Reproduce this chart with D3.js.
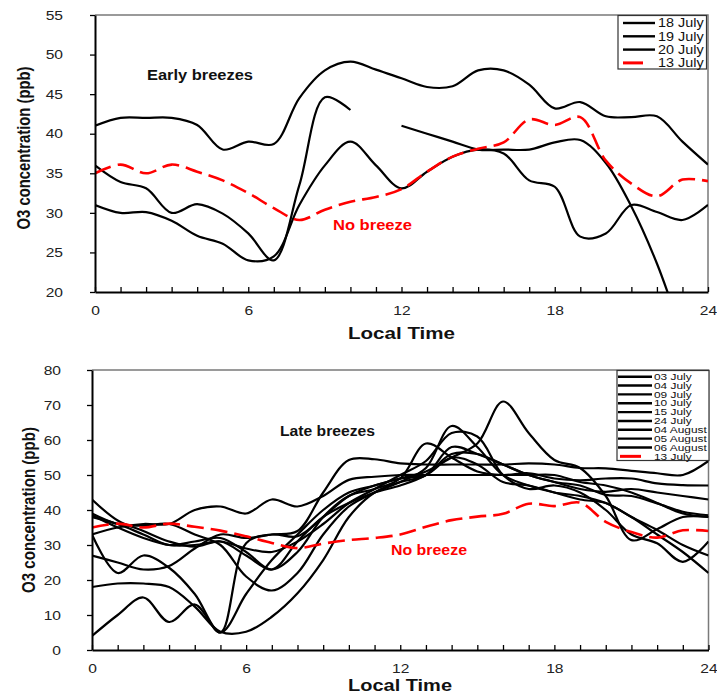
<!DOCTYPE html>
<html>
<head>
<meta charset="utf-8">
<script src="https://cdn.jsdelivr.net/npm/d3@7"></script>
<style>
  body { margin: 0; background: #fff; }
  svg { display: block; font-family: "Liberation Sans", Arial, sans-serif; }
</style>
</head>
<body>
<svg id="chart" width="717" height="696"></svg>
<script>
// ---- data: hourly O3 (ppb), local time 0..24 ----
const hours = d3.range(0, 25);
const xTickLabels = [0, 6, 12, 18, 24];
const topYTicks = [20, 25, 30, 35, 40, 45, 50, 55];
const bottomYTicks = [0, 10, 20, 30, 40, 50, 60, 70, 80];

// reference day without sea breeze
const jul13 = [35, 36.1, 35, 36.1, 35.2, 34.1, 32.5, 30.6, 29.1, 30.4, 31.4, 32, 33, 35.2, 37.1, 38.1, 38.9, 41.8, 41.1, 42.1, 36.6, 33.7, 32.1, 34.2, 34];

// early breezes
const jul18 = [41, 42, 42, 42, 41.1, 38, 39, 38.7, 44.5, 48, 49.1, 48.1, 47, 45.9, 46, 48, 48, 46.2, 43.2, 44, 42.2, 42.1, 42.2, 39, 36.1];
const jul19 = [36, 33.9, 33.1, 30, 31.1, 29.9, 27.4, 24, 33.5, 44.6, 43, null, 41, 40, 39, 38, 38, 38, 38.9, 39.2, 36.3, 30.8, 23.6, 14.6, 5.6];
const jul20 = [31, 30, 30.1, 29, 27.1, 26.1, 24, 24.5, 31, 36, 39, 36, 33.1, 35.2, 37.1, 38, 37.5, 34.1, 33.3, 27, 27.4, 31, 30.1, 29.1, 31];

// late breezes
const jul03 = [33, 35, 36, 36, 40, 41, 39, 43, 41, 44, 48.6, 49.5, 50, 50, 50, 50, 50, 50, 50, 48, 47, 45, 42, 39, 38];
const jul04 = [27, 25, 23, 24, 29, 33, 32, 33, 34, 45, 54.3, 54.5, 53.3, 53, 53, 53, 53, 53.3, 53, 52, 51.9, 51.2, 50.5, 50, 54];
const jul09 = [43, 37, 34, 31, 29.5, 31, 27, 23, 28, 38, 44, 46, 49, 59, 55, 51, 50, 50.5, 49, 48.5, 49, 49, 47.6, 47.1, 47];
const jul10 = [39, 36, 35.5, 36, 33, 30, 21, 17, 22, 33, 41, 45, 48, 52, 64, 58, 50, 47, 45, 44, 42, 38, 33, 28, 22];
const jul15 = [38.5, 35, 32, 30, 30, 31, 29, 28, 31, 36, 42, 46, 50, 54, 62, 61, 50, 46, 47, 45, 40, 33, 30.5, 25.2, 31];
const jul24 = [33, 22, 27, 23.5, 16, 5, 30.5, 33, 32.5, 38, 44, 47, 49, 51, 55, 59, 71, 62, 54.3, 52, 44, 31.4, 34.5, 38, 38];
const aug04 = [18, 19, 19, 18, 12.4, 5.2, 5.2, 9.5, 16.2, 25.7, 38, 45, 48, 50, 58, 56, 53, 50, 48, 46, 45.2, 46, 45, 44, 43];
const aug05 = [4, 10, 15, 8, 13, 5, 16, 25.7, 33, 40, 45, 47, 49, 50, 55, 53, 48, 47, 45, 43, 42, 38, 34.3, 30, 27];
const aug06 = [38, 36, 33, 30, 31, 32, 28, 23, 31, 38, 42, 45, 47, 50, 56, 56, 53, 50, 48, 47, 44.3, 44, 41.9, 39.5, 38.5];

const topNames = ["18 July", "19 July", "20 July", "13 July"];
const topValues = [jul18, jul19, jul20, jul13];
const bottomNames = ["03 July", "04 July", "09 July", "10 July", "15 July", "24 July", "04 August", "05 August", "06 August", "13 July"];
const bottomValues = [jul03, jul04, jul09, jul10, jul15, jul24, aug04, aug05, aug06, jul13];

const yLabel = "O3 concentration (ppb)";
const xLabel = "Local Time";

// ---- drawing ----
const svg = d3.select("#chart");
const STRETCH = 1.2;   // the artwork is slightly widened horizontally

function panel(cfg, names, values, id) {
  const x = d3.scaleLinear().domain([0, 24]).range([cfg.left, cfg.right]);
  const y = d3.scaleLinear().domain(cfg.yDomain).range([cfg.bottom, cfg.top]);
  const g = svg.append("g");

  g.append("clipPath").attr("id", id)
    .append("rect")
    .attr("x", cfg.left).attr("y", cfg.top)
    .attr("width", cfg.right - cfg.left).attr("height", cfg.bottom - cfg.top);

  // frame (top and right)
  g.append("path")
    .attr("d", `M${cfg.left},${cfg.top}H${cfg.right}V${cfg.bottom}`)
    .attr("fill", "none").attr("stroke", "#7a7a7a").attr("stroke-width", 1.5);

  // series
  const line = d3.line()
    .defined(d => d[1] != null)
    .x(d => x(d[0])).y(d => y(d[1]))
    .curve(d3.curveCatmullRom.alpha(0.5));

  const lines = g.append("g").attr("clip-path", `url(#${id})`);
  const order = values.map((v, i) => i).sort((a, b) => (names[a] === "13 July") - (names[b] === "13 July"));
  order.forEach(i => {
    const red = names[i] === "13 July";
    lines.append("path")
      .attr("d", line(hours.map((h, k) => [h, values[i][k]])))
      .attr("fill", "none")
      .attr("stroke", red ? "#ff0000" : "#000")
      .attr("stroke-width", red ? 2.6 : 2.2)
      .attr("stroke-dasharray", red ? "17,7" : null)
      .attr("stroke-linejoin", "round");
  });

  // x axis
  const xAxis = d3.axisBottom(x)
    .tickValues(hours)
    .tickSizeInner(-5).tickSizeOuter(0).tickPadding(14)
    .tickFormat(h => xTickLabels.includes(h) ? h : "");
  const gx = g.append("g").attr("transform", `translate(0,${cfg.bottom})`).call(xAxis);
  gx.select(".domain").attr("stroke", "#000").attr("stroke-width", 2);
  gx.selectAll(".tick line").attr("stroke", "#000").attr("stroke-width", 1.3);
  gx.selectAll("text")
    .attr("font-size", 13).attr("fill", "#222")
    .attr("font-family", "Liberation Sans, Arial, sans-serif")
    .attr("transform", `scale(${STRETCH},1)`);

  // y axis
  const yAxis = d3.axisLeft(y)
    .tickValues(cfg.yTicks)
    .tickSizeInner(5).tickSizeOuter(0);
  const gy = g.append("g").attr("transform", `translate(${cfg.left},0)`).call(yAxis);
  gy.select(".domain").attr("stroke", "#000").attr("stroke-width", 2);
  gy.selectAll(".tick line").attr("stroke", "#000").attr("stroke-width", 1.3);
  gy.selectAll("text")
    .attr("font-size", 13).attr("fill", "#222")
    .attr("font-family", "Liberation Sans, Arial, sans-serif")
    .attr("x", -cfg.yLabelGap / STRETCH)
    .attr("transform", `scale(${STRETCH},1)`);

  // axis titles
  g.append("text")
    .attr("x", cfg.xTitle[0]).attr("y", cfg.xTitle[1])
    .attr("font-size", 17).attr("font-weight", "bold").attr("fill", "#111")
    .attr("textLength", cfg.xTitle[2]).attr("lengthAdjust", "spacingAndGlyphs")
    .text(xLabel);
  g.append("text")
    .attr("transform", `translate(${cfg.yTitle[0]},${cfg.yTitle[1]}) rotate(-90) scale(1,${STRETCH})`)
    .attr("text-anchor", "middle").attr("dy", "0.35em")
    .attr("font-size", 14.8).attr("font-weight", "bold").attr("fill", "#111")
    .attr("textLength", cfg.yTitle[2]).attr("lengthAdjust", "spacingAndGlyphs")
    .text(yLabel);

  // annotations
  cfg.notes.forEach(n => {
    g.append("text")
      .attr("x", n.x).attr("y", n.y)
      .attr("font-size", n.size).attr("font-weight", "bold")
      .attr("fill", n.color)
      .attr("textLength", n.w).attr("lengthAdjust", "spacingAndGlyphs")
      .text(n.text);
  });

  // legend
  const L = cfg.legend;
  const lg = g.append("g");
  lg.append("rect")
    .attr("x", L.x).attr("y", L.y).attr("width", L.w).attr("height", L.h)
    .attr("fill", "#fff").attr("stroke", "#333").attr("stroke-width", 1.2);
  names.forEach((name, i) => {
    const red = name === "13 July";
    const cy = L.firstRow + i * L.rowH;
    lg.append("line")
      .attr("x1", red ? L.redX1 : L.lineX1).attr("x2", red ? L.redX2 : L.lineX2)
      .attr("y1", cy).attr("y2", cy)
      .attr("stroke", red ? "#ff0000" : "#000")
      .attr("stroke-width", red ? 3 : 2.4);
    lg.append("text")
      .attr("transform", `translate(${L.textX},${cy}) scale(${L.stretch},1)`)
      .attr("dy", "0.36em")
      .attr("font-size", L.fontSize).attr("fill", "#111")
      .text(name);
  });
}

panel({
  left: 95, right: 708, top: 15, bottom: 292,
  yDomain: [20, 55], yTicks: topYTicks, yLabelGap: 32,
  xTitle: [348, 339, 107], yTitle: [23.5, 148, 163],
  notes: [
    { text: "Early breezes", x: 147, y: 80, size: 14, w: 106, color: "#111" },
    { text: "No breeze", x: 333, y: 230, size: 14, w: 79, color: "#ff0000" }
  ],
  legend: { x: 618, y: 15.5, w: 88.5, h: 53.5, firstRow: 23, rowH: 13.3,
            lineX1: 623, lineX2: 655, redX1: 623, redX2: 643, textX: 658,
            fontSize: 12, stretch: STRETCH }
}, topNames, topValues, "clipTop");

panel({
  left: 92, right: 708.5, top: 370, bottom: 650,
  yDomain: [0, 80], yTicks: bottomYTicks, yLabelGap: 31,
  xTitle: [348, 691, 104], yTitle: [29, 510, 166],
  notes: [
    { text: "Late breezes", x: 280, y: 436, size: 14.5, w: 95, color: "#111" },
    { text: "No breeze", x: 391, y: 555, size: 14, w: 76, color: "#ff0000" }
  ],
  legend: { x: 617, y: 370.5, w: 92, h: 90, firstRow: 376.7, rowH: 8.85,
            lineX1: 618, lineX2: 652, redX1: 620, redX2: 641, textX: 654,
            fontSize: 9, stretch: 1.32 }
}, bottomNames, bottomValues, "clipBottom");
</script>
</body>
</html>
